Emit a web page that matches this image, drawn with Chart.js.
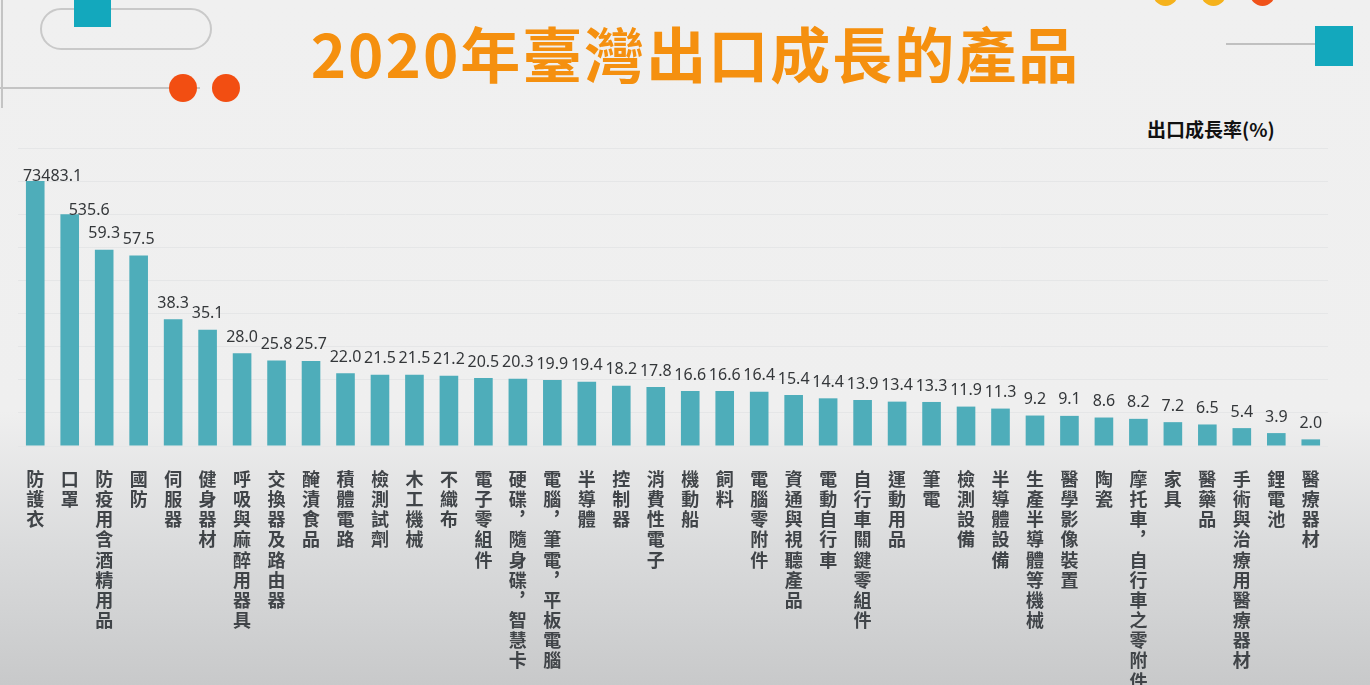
<!DOCTYPE html>
<html>
<head>
<meta charset="utf-8">
<script src="https://cdn.jsdelivr.net/npm/chart.js@4.4.1/dist/chart.umd.min.js"></script>
<style>
  html, body { margin: 0; padding: 0; }
  body {
    width: 1370px; height: 685px; overflow: hidden; position: relative;
    background: linear-gradient(to bottom, #f0f0f0 0%, #efefef 60%, #dadbdc 80%, #c8c9ca 100%);
    font-family: "Noto Sans CJK TC", "Noto Sans", sans-serif;
  }
  #wrap { position: absolute; left: 0; top: 0; width: 1370px; height: 685px; }
  .deco { position: absolute; }
  #title {
    position: absolute; left: 0; width: 1391px; top: 17px; text-align: center;
    font-family: "Noto Sans CJK TC", sans-serif; font-weight: 700; font-size: 60px; line-height: 70px;
    color: #F5900F; letter-spacing: 2px; white-space: nowrap;
  }
  #unit {
    position: absolute; left: 1147px; top: 115px;
    font-family: "Noto Sans CJK TC", sans-serif; font-weight: 700; font-size: 19px; line-height: 28px;
    color: #111; white-space: nowrap;
  }
</style>
</head>
<body>
<!-- decorations -->
<div class="deco" style="left:1px;top:0;width:2px;height:108px;background:#c4c4c4"></div>
<div class="deco" style="left:40px;top:8px;width:168px;height:38px;border:2px solid #c9c9c9;border-radius:21px"></div>
<div class="deco" style="left:74px;top:0;width:37px;height:27px;background:#13a8bd"></div>
<div class="deco" style="left:0;top:87px;width:200px;height:2px;background:#c4c4c4"></div>
<div class="deco" style="left:169px;top:74px;width:28px;height:28px;border-radius:50%;background:#f24e12"></div>
<div class="deco" style="left:212px;top:74px;width:28px;height:28px;border-radius:50%;background:#f24e12"></div>
<div class="deco" style="left:1153px;top:-19px;width:25px;height:25px;border-radius:50%;background:#f5b21c"></div>
<div class="deco" style="left:1201px;top:-19px;width:25px;height:25px;border-radius:50%;background:#f5b21c"></div>
<div class="deco" style="left:1250px;top:-19px;width:25px;height:25px;border-radius:50%;background:#f0521a"></div>
<div class="deco" style="left:1226px;top:43px;width:90px;height:2px;background:#c0c0c0"></div>
<div class="deco" style="left:1315px;top:26px;width:38px;height:40px;background:#13a8bd"></div>

<div id="title">2020年臺灣出口成長的產品</div>
<div id="unit">出口成長率(%)</div>

<div id="wrap"><canvas id="c" width="1370" height="685"></canvas></div>

<script>
// ---- data ----
const products = [
  "防護衣", "口罩", "防疫用含酒精用品", "國防", "伺服器", "健身器材", "呼吸與麻醉用器具",
  "交換器及路由器", "醃漬食品", "積體電路", "檢測試劑", "木工機械", "不織布", "電子零組件",
  "硬碟︐隨身碟︐智慧卡", "電腦︐筆電︐平板電腦", "半導體", "控制器", "消費性電子", "機動船",
  "飼料", "電腦零附件", "資通與視聽產品", "電動自行車", "自行車關鍵零組件", "運動用品", "筆電",
  "檢測設備", "半導體設備", "生產半導體等機械", "醫學影像裝置", "陶瓷", "摩托車︐自行車之零附件",
  "家具", "醫藥品", "手術與治療用醫療器材", "鋰電池", "醫療器材"
];
const growthRates = [
  73483.1, 535.6, 59.3, 57.5, 38.3, 35.1, 28.0, 25.8, 25.7, 22.0, 21.5, 21.5, 21.2, 20.5,
  20.3, 19.9, 19.4, 18.2, 17.8, 16.6, 16.6, 16.4, 15.4, 14.4, 13.9, 13.4, 13.3, 11.9, 11.3,
  9.2, 9.1, 8.6, 8.2, 7.2, 6.5, 5.4, 3.9, 2.0
];
// the two outliers are drawn with truncated bar heights in the reference (broken scale)
const outlierDrawnHeights = [80.0, 70.0];
const yTicks = [0, 10, 20, 30, 40, 50, 60, 70, 80, 90];

const barHeights = growthRates.map((v, i) => i < outlierDrawnHeights.length ? outlierDrawnHeights[i] : v);
const verticalLabels = products.map(p => Array.from(p));

const valueLabelPlugin = {
  id: 'valueLabels',
  afterDatasetsDraw(chart) {
    const ctx = chart.ctx;
    const meta = chart.getDatasetMeta(0);
    ctx.save();
    ctx.font = '16px "Noto Sans", "Open Sans", sans-serif';
    ctx.fillStyle = '#34373a';
    ctx.textBaseline = 'middle';
    meta.data.forEach((bar, i) => {
      const txt = growthRates[i].toFixed(1);
      if (i === 0) {
        ctx.textAlign = 'left';
        ctx.fillText(txt, bar.x - bar.width / 2 - 3, bar.y - 5);
      } else if (i === 1) {
        ctx.textAlign = 'left';
        ctx.fillText(txt, bar.x - 1, bar.y - 4);
      } else {
        ctx.textAlign = 'center';
        ctx.fillText(txt, bar.x, bar.y - 16);
      }
    });
    ctx.restore();
  }
};

new Chart(document.getElementById('c'), {
  type: 'bar',
  data: {
    labels: verticalLabels,
    datasets: [{
      data: barHeights,
      backgroundColor: '#4eadba',
      borderWidth: 0,
      categoryPercentage: 1.0,
      barPercentage: 0.54
    }]
  },
  options: {
    responsive: false,
    animation: false,
    layout: { padding: { left: 18, right: 42, top: 148, bottom: 0 } },
    plugins: { legend: { display: false }, tooltip: { enabled: false }, title: { display: false } },
    scales: {
      x: {
        grid: { display: false },
        border: { display: false },
        ticks: {
          autoSkip: false, maxRotation: 0, minRotation: 0, padding: 15,
          color: '#404448',
          font: { family: '"Noto Sans CJK TC", sans-serif', size: 18, weight: 'bold', lineHeight: 1.12 }
        },
        afterFit(scale) { scale.height = 239; }
      },
      y: {
        min: 0, max: 90,
        afterBuildTicks(scale) { scale.ticks = yTicks.map(v => ({ value: v })); },
        ticks: { display: false },
        grid: { color: '#e5e6e7', lineWidth: 1, drawTicks: false },
        border: { display: false },
        afterFit(scale) { scale.width = 0; }
      }
    }
  },
  plugins: [valueLabelPlugin]
});
</script>
</body>
</html>
